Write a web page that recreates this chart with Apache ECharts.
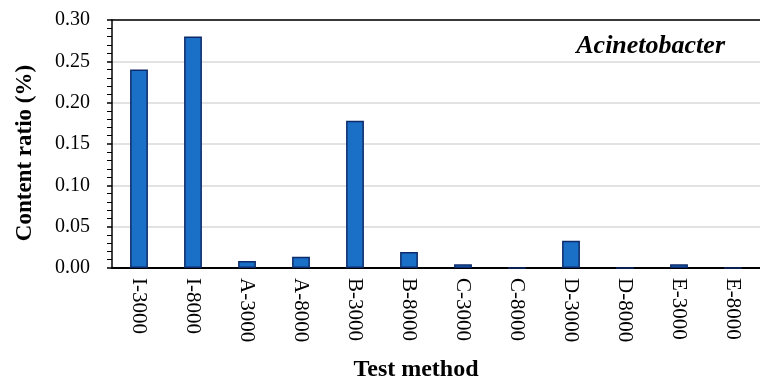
<!DOCTYPE html>
<html><head><meta charset="utf-8">
<script src="https://cdn.jsdelivr.net/npm/echarts@6/dist/echarts.min.js"></script>
<style>html,body{margin:0;padding:0;background:#fff}#c{width:760px;height:380px}</style>
</head><body><div id="c"></div>
<script>
const categories = ['I-3000','I-8000','A-3000','A-8000','B-3000','B-8000','C-3000','C-8000','D-3000','D-8000','E-3000','E-8000'];
const values = [0.240, 0.280, 0.0085, 0.0137, 0.178, 0.0194, 0.0045, 0, 0.033, 0, 0.0045, 0];
const yTicks = [0, 0.05, 0.10, 0.15, 0.20, 0.25, 0.30];
const F = '"Liberation Serif","Times New Roman",serif';
const chart = echarts.init(document.getElementById('c'));
chart.setOption({
  animation: false,
  grid: {left: 112, top: 20, width: 658, height: 248, containLabel: false},
  xAxis: [{
    type: 'category', data: categories,
    axisLine: {lineStyle: {color: '#000', width: 2}},
    axisTick: {show: false},
    axisLabel: {rotate: -90, color: '#000', fontFamily: F, fontSize: 21, margin: 10, interval: 0}
  }, {
    type: 'category', data: categories, position: 'top',
    axisLine: {show: true, lineStyle: {color: '#000', width: 1.5}},
    axisTick: {show: false}, axisLabel: {show: false}
  }],
  yAxis: {
    type: 'value', min: yTicks[0], max: yTicks[yTicks.length-1], interval: 0.05,
    axisLine: {show: true, lineStyle: {color: '#000', width: 1.5}},
    axisTick: {show: true, length: 5, lineStyle: {color: '#000', width: 1.5}},
    minorTick: {show: true, splitNumber: 5, length: 5, lineStyle: {color: '#000', width: 1}},
    splitLine: {show: true, lineStyle: {color: '#d9d9d9', width: 1.5}},
    axisLabel: {color: '#000', fontFamily: F, fontSize: 20, margin: 22, formatter: v => v.toFixed(2)}
  },
  series: [{
    type: 'bar', data: values, barWidth: '33%',
    itemStyle: {color: '#1a6fc6', borderColor: '#0d2b6b', borderWidth: 1.5}
  }],
  graphic: [
    {type: 'text', x: 416, y: 370, style: {text: 'Test method', fill: '#000', font: 'bold 24px ' + F, align: 'center', verticalAlign: 'middle', textAlign: 'center', textVerticalAlign: 'middle'}},
    {type: 'text', x: 25, y: 153, rotation: Math.PI / 2, style: {text: 'Content ratio (%)', fill: '#000', font: 'bold 23px ' + F, align: 'center', verticalAlign: 'middle', textAlign: 'center', textVerticalAlign: 'middle'}},
    {type: 'text', x: 725, y: 46, style: {text: 'Acinetobacter', fill: '#000', font: 'italic bold 26px ' + F, align: 'right', verticalAlign: 'middle', textAlign: 'right', textVerticalAlign: 'middle'}}
  ]
});
</script></body></html>
